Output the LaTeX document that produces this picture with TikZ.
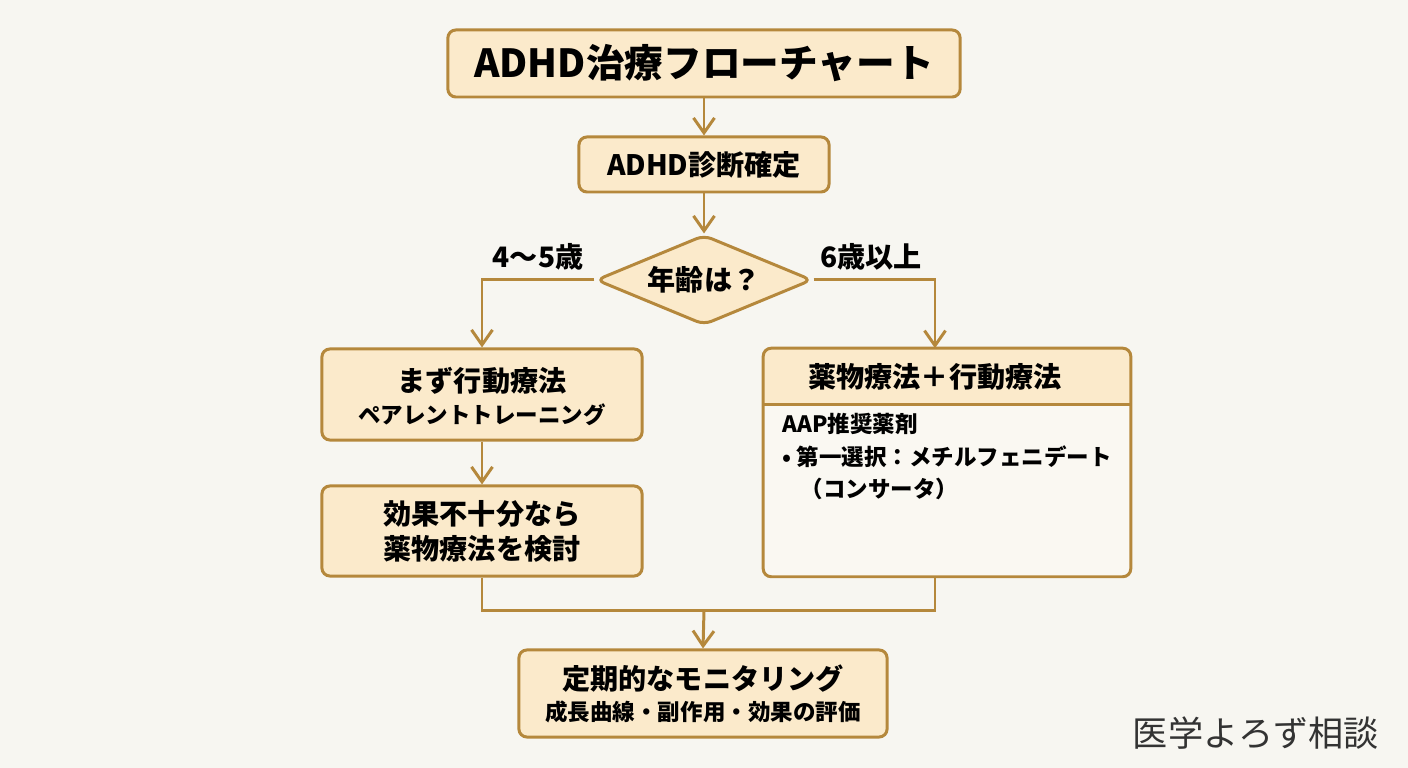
\documentclass[tikz,border=0pt]{standalone}
\usepackage{fontspec}
\setmainfont{Noto Sans CJK JP}
\definecolor{paperbg}{HTML}{F7F6F1}
\definecolor{boxfill}{HTML}{FBEACB}
\definecolor{bodyfill}{HTML}{FAF8F2}
\definecolor{goldline}{HTML}{B5883C}
\definecolor{markgray}{HTML}{333333}
\usetikzlibrary{arrows.meta, positioning, calc, shapes.geometric}

\newcommand{\titlefont}{\fontsize{11}{13}\selectfont\bfseries}
\newcommand{\boxfont}{\fontsize{8}{10}\selectfont\bfseries}
\newcommand{\subfont}{\fontsize{6.4}{8}\selectfont\bfseries}

\tikzset{
  flowbox/.style={draw=goldline, fill=boxfill, line width=0.85pt, rounded corners=0.8mm, inner sep=0pt},
  flowline/.style={draw=goldline, line width=0.85pt},
  flowarrow/.style={flowline, -{Straight Barb[length=1.5mm, width=2.1mm]}},
  plain/.style={inner sep=0pt}
}

\begin{document}
\begin{tikzpicture}[x=0.01cm, y=-0.01cm]
  \fill[paperbg] (0,0) rectangle (1408,768);
  \useasboundingbox (0,0) rectangle (1408,768);

  % top of the chart
  \node[flowbox, minimum width=5.12cm, minimum height=0.67cm, font=\titlefont] (title) at (704,63.5) {ADHD治療フローチャート};
  \node[flowbox, minimum width=2.5cm, minimum height=0.55cm, font=\boxfont] (diag) at (704,164.5) {ADHD診断確定};
  \node[flowbox, diamond, aspect=2.4, minimum width=2.16cm, minimum height=0.9cm, font=\boxfont] (age) at (704,280) {年齢は？};
  \node[plain, font=\boxfont] (young) at (538,257) {4〜5歳};
  \node[plain, font=\boxfont] (older) at (871,257) {6歳以上};

  % left branch
  \node[flowbox, minimum width=3.2cm, minimum height=0.91cm] (behav) at (482,394.5) {};
  \node[plain, font=\boxfont] (behavtxt) at (482,381) {まず行動療法};
  \node[plain, font=\subfont] (behavsub) at (482,415) {ペアレントトレーニング};
  \node[flowbox, minimum width=3.2cm, minimum height=0.9cm] (trial) at (482,531) {};
  \node[plain, font=\boxfont] (trialtxt) at (482,514) {効果不十分なら};
  \node[plain, font=\boxfont] (trialsub) at (482,549) {薬物療法を検討};

  % right branch
  \node[plain, minimum width=3.66cm, minimum height=2.27cm] (medbox) at (947,462.5) {};
  \fill[bodyfill, rounded corners=0.8mm] (medbox.north west) rectangle (medbox.south east);
  \begin{scope}
    \clip[rounded corners=0.8mm] (medbox.north west) rectangle (medbox.south east);
    \fill[boxfill] (medbox.north west) rectangle ([yshift=-0.56cm]medbox.north east);
  \end{scope}
  \draw[flowline] ([yshift=-0.56cm]medbox.north west) -- ([yshift=-0.56cm]medbox.north east);
  \draw[flowline, rounded corners=0.8mm] (medbox.north west) rectangle (medbox.south east);
  \node[plain, font=\boxfont] (medhead) at (935,377) {薬物療法＋行動療法};
  \node[plain, font=\subfont, anchor=west] (aap) at (782,424) {AAP推奨薬剤};
  \node[plain, font=\subfont, anchor=west] (choice) at (782,457) {•\ 第一選択：メチルフェニデート};
  \node[plain, font=\subfont, anchor=west] (brand) at (800,489) {（コンサータ）};

  % bottom
  \node[flowbox, minimum width=3.68cm, minimum height=0.87cm] (monitor) at (703,693.5) {};
  \node[plain, font=\boxfont] (montxt) at (703,679) {定期的なモニタリング};
  \node[plain, font=\subfont] (monsub) at (703,712) {成長曲線・副作用・効果の評価};
  \coordinate (merge) at (704,611);

  % connectors
  \draw[flowarrow] (title) -- (diag);
  \draw[flowarrow] (diag) -- (age);
  \draw[flowarrow] (age.west) -| (behav.north);
  \draw[flowarrow] (age.east) -| ([xshift=-0.12cm]medbox.north);
  \draw[flowarrow] (behav) -- (trial);
  \draw[flowline] (trial.south) |- (merge) -| ([xshift=-0.12cm]medbox.south);
  \draw[flowarrow] (merge) -- (monitor.north);

  \node[plain, font=\fontsize{10}{12}\selectfont, text=markgray] (mark) at (1256,733) {医学よろず相談};
\end{tikzpicture}
\end{document}
